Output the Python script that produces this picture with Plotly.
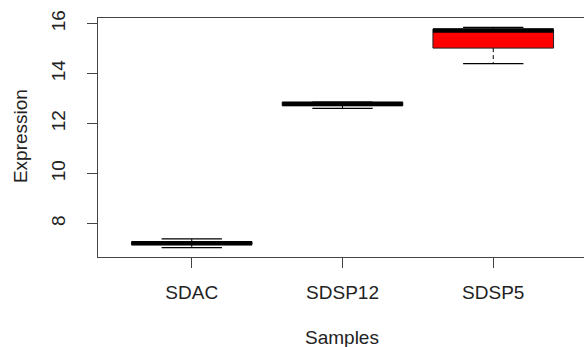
import plotly.graph_objects as go

samples = ["SDAC", "SDSP12", "SDSP5"]
lower = [7.04, 12.61, 14.40]
q1 = [7.16, 12.72, 15.02]
median = [7.21, 12.78, 15.72]
q3 = [7.27, 12.86, 15.78]
upper = [7.39, 12.86, 15.85]
fills = ["white", "white", "red"]

BOX_HALF = 0.4
CAP_HALF = 0.2

fig = go.Figure()
for i, s in enumerate(samples):
    # box
    fig.add_trace(go.Scatter(
        x=[i - BOX_HALF, i + BOX_HALF, i + BOX_HALF, i - BOX_HALF, i - BOX_HALF],
        y=[q1[i], q1[i], q3[i], q3[i], q1[i]],
        fill="toself", fillcolor=fills[i], mode="lines",
        line=dict(color="#222", width=1), hoverinfo="skip", showlegend=False))
    # whiskers (dashed)
    for a, b in [(q3[i], upper[i]), (q1[i], lower[i])]:
        if abs(b - a) > 1e-9:
            fig.add_trace(go.Scatter(x=[i, i], y=[a, b], mode="lines",
                                     line=dict(color="black", width=1, dash="4px,3px"),
                                     hoverinfo="skip", showlegend=False))
    # caps
    for v in [upper[i], lower[i]]:
        fig.add_trace(go.Scatter(x=[i - CAP_HALF, i + CAP_HALF], y=[v, v], mode="lines",
                                 line=dict(color="black", width=1.2),
                                 hoverinfo="skip", showlegend=False))
    # median
    fig.add_trace(go.Scatter(x=[i - BOX_HALF, i + BOX_HALF], y=[median[i], median[i]],
                             mode="lines", line=dict(color="black", width=4.5),
                             hoverinfo="skip", showlegend=False))

font = dict(family="Liberation Sans, Arial, sans-serif", size=19, color="#222")

fig.update_layout(
    width=584, height=347,
    margin=dict(l=98, r=0, t=18, b=90),
    paper_bgcolor="white", plot_bgcolor="white",
    font=font,
    xaxis=dict(range=[-0.622, 2.602], tickvals=[0, 1, 2], ticktext=samples,
               showgrid=False, zeroline=False, showline=True, mirror=True,
               linecolor="#444", linewidth=1, ticks="outside", ticklen=10,
               tickcolor="#444", tickfont=font, ticklabelstandoff=8),
    yaxis=dict(range=[6.664, 16.224], tickvals=[8, 10, 12, 14, 16],
               showgrid=False, zeroline=False, showline=True, mirror=False,
               linecolor="#444", linewidth=1, ticks="outside", ticklen=10,
               tickcolor="#444", tickfont=font, tickangle=-90, ticklabelstandoff=14),
    annotations=[
        dict(text="Samples", xref="paper", yref="paper", x=0.502, y=-0.335,
             xanchor="center", yanchor="middle", showarrow=False, font=font),
        dict(text="Expression", xref="paper", yref="paper", x=-0.1595, y=0.508,
             xanchor="center", yanchor="middle", textangle=-90, showarrow=False, font=font),
    ],
)

fig.write_html("out.html")
